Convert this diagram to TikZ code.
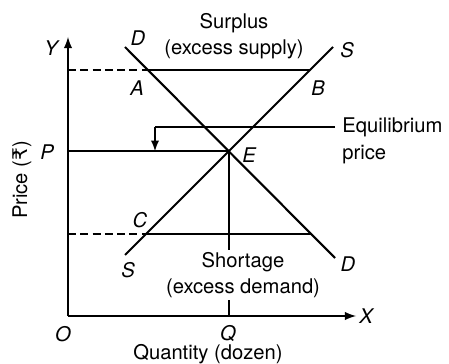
\documentclass[tikz,border=0pt]{standalone}
\usepackage{fontspec}
\setmainfont{TeX Gyre Heros}
\newfontfamily\rupeefont{DejaVu Sans}
\usetikzlibrary{intersections}

\begin{document}
\begin{tikzpicture}[x=0.02cm,y=-0.02cm,
    font=\fontsize{11.5}{15}\selectfont,
    curve/.style={line width=1.2pt},
    level/.style={line width=1.1pt},
    guide/.style={line width=1.1pt,dash pattern=on 4.5pt off 2.5pt},
    pt/.style={font=\fontsize{11.5}{15}\selectfont\itshape,inner sep=0pt}]

    % 枠
    \useasboundingbox (0,0) rectangle (449,364);

    % パラメータの定義
    \pgfmathsetmacro{\ox}{68}
    \pgfmathsetmacro{\oy}{316}
    \pgfmathsetmacro{\hi}{70}
    \pgfmathsetmacro{\lo}{234}

    % 点の定義
    \coordinate (O) at (\ox,\oy);
    \coordinate (Ytip) at (\ox,37);
    \coordinate (Xtip) at (356,\oy);
    \coordinate (D1) at (125,47);
    \coordinate (D2) at (335,258);
    \coordinate (S1) at (125,255);
    \coordinate (S2) at (333,47);
    \coordinate (eqR) at (335,127);
    \coordinate (eqL) at (155,127);

    % 軸
    \draw [line width=1.2pt, -latex] (O) -- (Ytip);
    \draw [line width=1.2pt, -latex] (O) -- (Xtip);

    % 需要と供給
    \draw [curve, name path=DD] (D1) -- (D2);
    \draw [curve, name path=SS] (S1) -- (S2);
    \path [name path=HI] (\ox,\hi) -- (400,\hi);
    \path [name path=LO] (\ox,\lo) -- (400,\lo);

    % 交点
    \path [name intersections={of=DD and SS, by=E}];
    \path [name intersections={of=DD and HI, by=A}];
    \path [name intersections={of=SS and HI, by=B}];
    \path [name intersections={of=SS and LO, by=C}];
    \path [name intersections={of=DD and LO, by=F}];

    % 線分の描画
    \draw [guide] (O |- A) -- (A);
    \draw [level] (A) -- (B);
    \draw [guide] (O |- C) -- (C);
    \draw [level] (C) -- (F);
    \draw [level] (O |- E) -- (E);
    \draw [level] (E) -- (E |- O);
    \draw [level] (eqR) -- (eqL);
    \draw [level, -latex] (eqL) -- (eqL |- E);

    % 文字
    \node (surplus) at (234,36) [align=center] {Surplus\\(excess supply)};
    \node (shortage) at (243,275) [align=center, fill=white, inner sep=1pt] {Shortage\\(excess demand)};
    \node (eqtext) at (342,141) [anchor=west, align=left, inner sep=0pt] {Equilibrium\\price};
    \node (qty) at (208,354) {Quantity (dozen)};
    \node (price) at (22,180) [rotate=90] {Price ({\rupeefont ₹})};

    % 点の名前
    \node [pt] (lY) at (51,48) {Y};
    \node [pt] (lX) at (366,316) {X};
    \node [pt] (lO) at (63,334) {O};
    \node [pt] (lQ) at (228,333) {Q};
    \node [pt] (lP) at (47,152) {P};
    \node [pt] (lD1) at (138,38) {D};
    \node [pt] (lA) at (137,88) {A};
    \node [pt] (lB) at (318,88) {B};
    \node [pt] (lS2) at (347,50) {S};
    \node [pt] (lE) at (249,155) {E};
    \node [pt] (lC) at (140,220) {C};
    \node [pt] (lS1) at (128,270) {S};
    \node [pt] (lD2) at (348,264) {D};

\end{tikzpicture}
\end{document}
